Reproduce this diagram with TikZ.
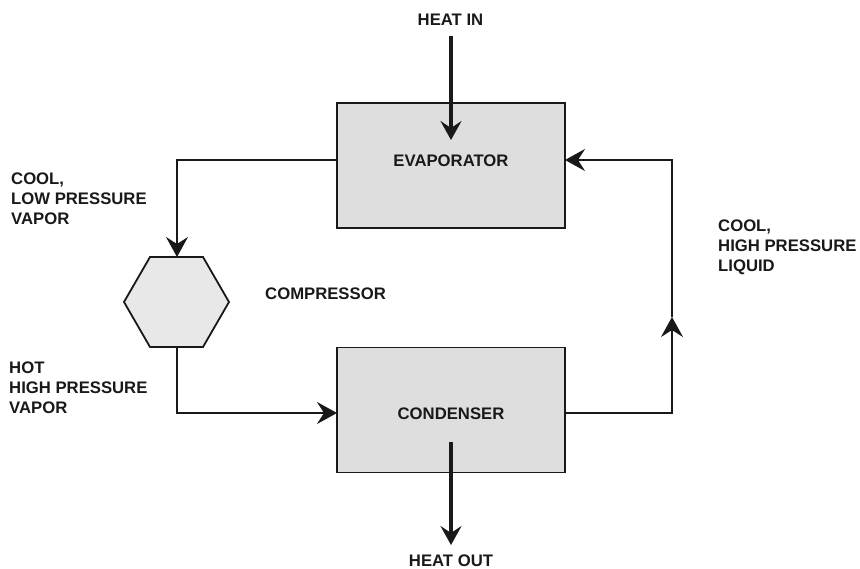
\documentclass[tikz,border=0pt]{standalone}
\usepackage{fontspec}
\setmainfont{Liberation Sans}
\usetikzlibrary{arrows.meta}
\tikzset{
  box/.style={draw=black!90, line width=1.8pt, fill=black!13, minimum width=228pt, minimum height=125pt, inner sep=0pt},
  lbl/.style={font=\fontsize{16.7}{20}\selectfont\bfseries, text=black!90, inner sep=0pt, align=left},
  conn/.style={draw=black!90, line width=1.5pt},
  tip/.style={-{Stealth[length=20pt,width=22pt,inset=7pt]}},
  heat/.style={draw=black!90, line width=3.8pt, -{Stealth[length=19pt,width=21pt,inset=7pt]}}
}
\begin{document}
\begin{tikzpicture}[x=1pt,y=-1pt]
\useasboundingbox[fill=white] (0,0) rectangle (860,569);
% boxes
\node[box] (evap) at (451,165.5) {};
\node[box] (cond) at (451,410) {};
\node[lbl] (evapt) at (451,160.5) {EVAPORATOR};
\node[lbl] (condt) at (451,414) {CONDENSER};
% compressor hexagon
\draw[draw=black!90, line width=1.8pt, fill=black!9]
  (150,257) -- (203,257) -- (229,302) -- (203,347) -- (150,347) -- (124,302) -- cycle;
\coordinate (hexT) at (177,257);
\coordinate (hexB) at (177,347);
% connection points
\coordinate (evL) at (337,160);
\coordinate (evR) at (565,160);
\coordinate (cdL) at (337,413);
\coordinate (cdR) at (565,413);
\coordinate (rmid) at (672,317);
% connectors
\draw[conn,tip] (evL) -| (hexT);
\draw[conn,tip] (hexB) |- (cdL);
\draw[conn,tip] (cdR) -| (rmid);
\draw[conn,tip] (rmid) |- (evR);
% heat flows
\node[lbl] (hin) at (450.5,19.5) {HEAT IN};
\coordinate (hinS) at (451,36);
\coordinate (hinE) at (451,140);
\draw[heat] (hinS) -- (hinE);
\coordinate (houtS) at (451,442);
\coordinate (houtE) at (451,545);
\draw[heat] (houtS) -- (houtE);
\node[lbl] (hout) at (451,560.5) {HEAT OUT};
% labels
\node[lbl, anchor=north west] (l1) at (11,172.5) {COOL,\\LOW PRESSURE\\VAPOR};
\node[lbl, anchor=west] (l2) at (265,294) {COMPRESSOR};
\node[lbl, anchor=north west] (l3) at (9,362) {HOT\\HIGH PRESSURE\\VAPOR};
\node[lbl, anchor=north west] (l4) at (718,220) {COOL,\\HIGH PRESSURE\\LIQUID};
\end{tikzpicture}
\end{document}
